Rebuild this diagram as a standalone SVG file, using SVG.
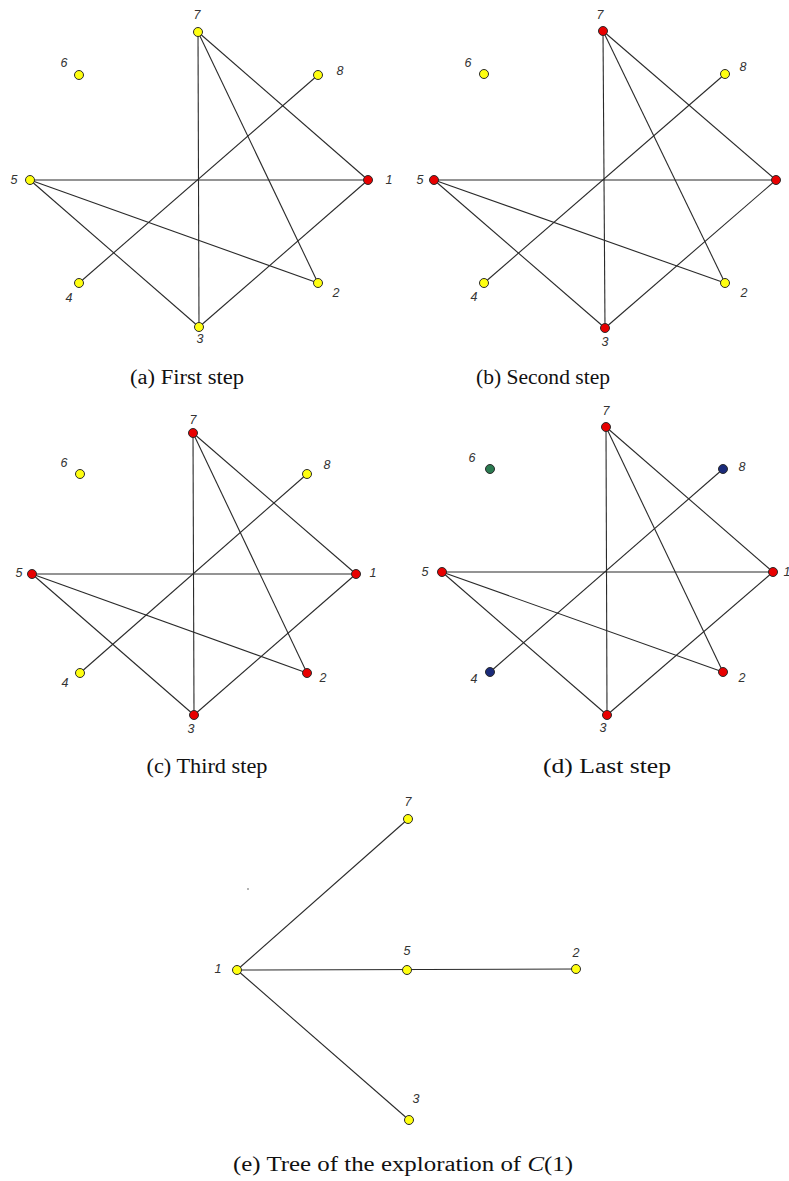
<svg xmlns="http://www.w3.org/2000/svg" width="789" height="1181" viewBox="0 0 789 1181">
<style>
.e line{stroke:#2a2a2a;stroke-width:1.1;fill:none}
.n{stroke:#2a2a2a;stroke-width:1}
.y{fill:#ffff10}
.r{fill:#e80000}
.b{fill:#1a2a7a}
.g{fill:#2a7a50}
.l{font-family:"Liberation Sans",Arial,sans-serif;font-style:italic;font-size:12.5px;fill:#333;text-anchor:middle}
.c{font-family:"Liberation Serif","Times New Roman",serif;font-size:20px;fill:#111;text-anchor:middle}
</style>
<rect width="789" height="1181" fill="#fff"/>

<!-- Panel (a) -->
<g id="panel-a">
<g id="a-edges" class="e">
<line x1="198" y1="32" x2="199" y2="327"/>
<line x1="198" y1="32" x2="368" y2="180"/>
<line x1="198" y1="32" x2="318" y2="283"/>
<line x1="30" y1="180" x2="368" y2="180"/>
<line x1="30" y1="180" x2="318" y2="283"/>
<line x1="30" y1="180" x2="199" y2="327"/>
<line x1="199" y1="327" x2="368" y2="180"/>
<line x1="79" y1="283" x2="318" y2="75"/>
</g>
<g id="a-n1"><circle class="n r" cx="368" cy="180" r="4.5"/><text class="l" x="389" y="184">1</text></g>
<g id="a-n2"><circle class="n y" cx="318" cy="283" r="4.5"/><text class="l" x="336" y="297">2</text></g>
<g id="a-n3"><circle class="n y" cx="199" cy="327" r="4.5"/><text class="l" x="200" y="343">3</text></g>
<g id="a-n4"><circle class="n y" cx="79" cy="283" r="4.5"/><text class="l" x="69" y="302">4</text></g>
<g id="a-n5"><circle class="n y" cx="30" cy="180" r="4.5"/><text class="l" x="14" y="184">5</text></g>
<g id="a-n6"><circle class="n y" cx="79" cy="75" r="4.5"/><text class="l" x="64" y="67">6</text></g>
<g id="a-n7"><circle class="n y" cx="198" cy="32" r="4.5"/><text class="l" x="197" y="19">7</text></g>
<g id="a-n8"><circle class="n y" cx="318" cy="75" r="4.5"/><text class="l" x="340" y="75">8</text></g>
<text class="c" x="187" y="384" textLength="114" lengthAdjust="spacingAndGlyphs">(a)  First step</text>
</g>

<!-- Panel (b) -->
<g id="panel-b">
<g id="b-edges" class="e">
<line x1="603" y1="31" x2="605" y2="328"/>
<line x1="603" y1="31" x2="776" y2="180"/>
<line x1="603" y1="31" x2="725" y2="283"/>
<line x1="434" y1="180" x2="776" y2="180"/>
<line x1="434" y1="180" x2="725" y2="283"/>
<line x1="434" y1="180" x2="605" y2="328"/>
<line x1="605" y1="328" x2="776" y2="180"/>
<line x1="484" y1="283" x2="725" y2="74"/>
</g>
<g id="b-n1"><circle class="n r" cx="776" cy="180" r="4.5"/></g>
<g id="b-n2"><circle class="n y" cx="725" cy="283" r="4.5"/><text class="l" x="744" y="297">2</text></g>
<g id="b-n3"><circle class="n r" cx="605" cy="328" r="4.5"/><text class="l" x="605" y="346">3</text></g>
<g id="b-n4"><circle class="n y" cx="484" cy="283" r="4.5"/><text class="l" x="474" y="301">4</text></g>
<g id="b-n5"><circle class="n r" cx="434" cy="180" r="4.5"/><text class="l" x="420" y="184">5</text></g>
<g id="b-n6"><circle class="n y" cx="484" cy="74" r="4.5"/><text class="l" x="468" y="67">6</text></g>
<g id="b-n7"><circle class="n r" cx="603" cy="31" r="4.5"/><text class="l" x="600" y="19">7</text></g>
<g id="b-n8"><circle class="n y" cx="725" cy="74" r="4.5"/><text class="l" x="743" y="71">8</text></g>
<text class="c" x="543" y="384" textLength="134" lengthAdjust="spacingAndGlyphs">(b)  Second step</text>
</g>

<!-- Panel (c) -->
<g id="panel-c">
<g id="c-edges" class="e">
<line x1="193" y1="433" x2="194" y2="715"/>
<line x1="193" y1="433" x2="356" y2="574"/>
<line x1="193" y1="433" x2="307" y2="673"/>
<line x1="32" y1="574" x2="356" y2="574"/>
<line x1="32" y1="574" x2="307" y2="673"/>
<line x1="32" y1="574" x2="194" y2="715"/>
<line x1="194" y1="715" x2="356" y2="574"/>
<line x1="80" y1="673" x2="307" y2="474"/>
</g>
<g id="c-n1"><circle class="n r" cx="356" cy="574" r="4.5"/><text class="l" x="373" y="577">1</text></g>
<g id="c-n2"><circle class="n r" cx="307" cy="673" r="4.5"/><text class="l" x="323" y="682">2</text></g>
<g id="c-n3"><circle class="n r" cx="194" cy="715" r="4.5"/><text class="l" x="191" y="733">3</text></g>
<g id="c-n4"><circle class="n y" cx="80" cy="673" r="4.5"/><text class="l" x="65" y="687">4</text></g>
<g id="c-n5"><circle class="n r" cx="32" cy="574" r="4.5"/><text class="l" x="19" y="577">5</text></g>
<g id="c-n6"><circle class="n y" cx="80" cy="474" r="4.5"/><text class="l" x="64" y="467">6</text></g>
<g id="c-n7"><circle class="n r" cx="193" cy="433" r="4.5"/><text class="l" x="193" y="424">7</text></g>
<g id="c-n8"><circle class="n y" cx="307" cy="474" r="4.5"/><text class="l" x="327" y="469">8</text></g>
<text class="c" x="207" y="773" textLength="121" lengthAdjust="spacingAndGlyphs">(c)  Third step</text>
</g>

<!-- Panel (d) -->
<g id="panel-d">
<g id="d-edges" class="e">
<line x1="606" y1="427" x2="607" y2="715"/>
<line x1="606" y1="427" x2="773" y2="572"/>
<line x1="606" y1="427" x2="723" y2="672"/>
<line x1="442" y1="572" x2="773" y2="572"/>
<line x1="442" y1="572" x2="723" y2="672"/>
<line x1="442" y1="572" x2="607" y2="715"/>
<line x1="607" y1="715" x2="773" y2="572"/>
<line x1="490" y1="672" x2="723" y2="469"/>
</g>
<g id="d-n1"><circle class="n r" cx="773" cy="572" r="4.5"/><text class="l" x="787" y="576">1</text></g>
<g id="d-n2"><circle class="n r" cx="723" cy="672" r="4.5"/><text class="l" x="742" y="682">2</text></g>
<g id="d-n3"><circle class="n r" cx="607" cy="715" r="4.5"/><text class="l" x="603" y="732">3</text></g>
<g id="d-n4"><circle class="n b" cx="490" cy="672" r="4.5"/><text class="l" x="474" y="683">4</text></g>
<g id="d-n5"><circle class="n r" cx="442" cy="572" r="4.5"/><text class="l" x="425" y="576">5</text></g>
<g id="d-n6"><circle class="n g" cx="490" cy="469" r="4.5"/><text class="l" x="472" y="462">6</text></g>
<g id="d-n7"><circle class="n r" cx="606" cy="427" r="4.5"/><text class="l" x="606" y="415">7</text></g>
<g id="d-n8"><circle class="n b" cx="723" cy="469" r="4.5"/><text class="l" x="742" y="471">8</text></g>
<text class="c" x="607" y="773" textLength="128" lengthAdjust="spacingAndGlyphs">(d)  Last step</text>
</g>

<!-- Panel (e) -->
<g id="panel-e">
<g id="e-edges" class="e">
<line x1="237" y1="970" x2="408" y2="819"/>
<line x1="237" y1="970" x2="576" y2="969"/>
<line x1="237" y1="970" x2="409" y2="1120"/>
</g>
<g id="e-n1"><circle class="n y" cx="237" cy="970" r="4.5"/><text class="l" x="218" y="973">1</text></g>
<g id="e-n5"><circle class="n y" cx="407" cy="970" r="4.5"/><text class="l" x="407" y="955">5</text></g>
<g id="e-n2"><circle class="n y" cx="576" cy="969" r="4.5"/><text class="l" x="576" y="957">2</text></g>
<g id="e-n7"><circle class="n y" cx="408" cy="819" r="4.5"/><text class="l" x="408" y="806">7</text></g>
<g id="e-n3"><circle class="n y" cx="409" cy="1120" r="4.5"/><text class="l" x="416" y="1103">3</text></g>
<circle cx="248" cy="889" r="0.8" fill="#555"/>
<text class="c" x="403" y="1171" textLength="340" lengthAdjust="spacingAndGlyphs">(e)  Tree of the exploration of <tspan font-style="italic">C</tspan>(1)</text>
</g>
</svg>
